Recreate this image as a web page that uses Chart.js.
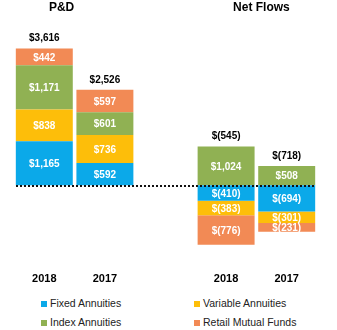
<!DOCTYPE html>
<html>
<head>
<meta charset="utf-8">
<script src="https://cdn.jsdelivr.net/npm/chart.js@4"></script>
<style>
html,body{margin:0;padding:0;background:#fff;}
#wrap{position:relative;width:337px;height:330px;font-family:"Liberation Sans",Arial,sans-serif;}
#box{position:absolute;left:0;top:0;width:337px;height:290px;}
#legend{position:absolute;left:0;top:295px;width:337px;height:35px;}
.li{position:absolute;font-size:10.5px;color:#222;line-height:12px;white-space:nowrap;}
.sw{display:inline-block;width:6px;height:6px;margin-right:3px;vertical-align:0px;}
</style>
</head>
<body>
<div id="wrap">
  <div id="box"><canvas id="c"></canvas></div>
  <div id="legend"></div>
</div>
<script>
const categories = ["2018", "2017", "", "2018", "2017"];
const groupTitles = ["P&D", "Net Flows"];
const seriesNames = ["Fixed Annuities", "Variable Annuities", "Index Annuities", "Retail Mutual Funds"];
const fixedAnnuities = [1165, 592, null, -410, -694];
const variableAnnuities = [838, 736, null, -383, -301];
const indexAnnuities = [1171, 601, null, 1024, 508];
const retailMutualFunds = [442, 597, null, -776, -231];
const seriesColors = ["#0BA9E9", "#FDBE0A", "#90B153", "#F28A55"];

const seriesValues = [fixedAnnuities, variableAnnuities, indexAnnuities, retailMutualFunds];

function fmt(v) {
  const s = Math.abs(v).toLocaleString("en-US");
  return v < 0 ? "$(" + s + ")" : "$" + s;
}

const labelPlugin = {
  id: "labels",
  afterDatasetsDraw(chart) {
    const ctx = chart.ctx;
    const y = chart.scales.y;
    const x = chart.scales.x;
    const area = chart.chartArea;
    ctx.save();
    ctx.strokeStyle = "#111";
    ctx.lineWidth = 2;
    ctx.setLineDash([2, 2]);
    const y0 = Math.round(y.getPixelForValue(0)) + 1;
    ctx.beginPath();
    ctx.moveTo(area.left + 2, y0);
    ctx.lineTo(area.right - 1, y0);
    ctx.stroke();
    ctx.setLineDash([]);
    ctx.textAlign = "center";
    ctx.textBaseline = "middle";
    ctx.font = "bold 10px 'Liberation Sans', Arial, sans-serif";
    ctx.fillStyle = "#fff";
    chart.data.datasets.forEach((ds, di) => {
      const meta = chart.getDatasetMeta(di);
      meta.data.forEach((bar, i) => {
        const v = ds.data[i];
        if (v === null || v === undefined) return;
        const p = bar.getProps(["x", "y", "base"], true);
        ctx.fillText(fmt(v), p.x, (p.y + p.base) / 2 + 1);
      });
    });
    ctx.fillStyle = "#000";
    ctx.font = "bold 10px 'Liberation Sans', Arial, sans-serif";
    categories.forEach((c, i) => {
      let total = 0, pos = 0, has = false;
      seriesValues.forEach(arr => {
        const v = arr[i];
        if (v === null) return;
        has = true;
        total += v;
        if (v > 0) pos += v;
      });
      if (!has) return;
      const px = x.getPixelForValue(i);
      const py = y.getPixelForValue(pos) - 10;
      ctx.fillText(fmt(total), px, py);
    });
    ctx.font = "bold 12px 'Liberation Sans', Arial, sans-serif";
    const g1 = (x.getPixelForValue(0) + x.getPixelForValue(1)) / 2 - 13;
    const g2 = (x.getPixelForValue(3) + x.getPixelForValue(4)) / 2 + 5;
    ctx.fillText(groupTitles[0], g1, 8);
    ctx.fillText(groupTitles[1], g2, 8);
    ctx.restore();
  }
};

const chart = new Chart(document.getElementById("c"), {
  type: "bar",
  data: {
    labels: categories,
    datasets: seriesNames.map((n, i) => ({
      label: n,
      data: seriesValues[i],
      backgroundColor: seriesColors[i],
      borderWidth: 0,
      barPercentage: 0.94,
      categoryPercentage: 1.0
    }))
  },
  options: {
    responsive: true,
    maintainAspectRatio: false,
    animation: false,
    layout: { padding: { top: 20, left: 14, right: 20, bottom: 2 } },
    plugins: { legend: { display: false }, tooltip: { enabled: false }, title: { display: false } },
    scales: {
      x: {
        stacked: true,
        grid: { display: false, drawTicks: false },
        border: { display: false },
        ticks: {
          color: "#000",
          padding: 2,
          font: { family: "'Liberation Sans', Arial, sans-serif", size: 11, weight: "bold" },
          maxRotation: 0,
          autoSkip: false
        }
      },
      y: {
        stacked: true,
        display: false,
        min: -2260,
        max: 4370
      }
    }
  },
  plugins: [labelPlugin]
});

const leg = document.getElementById("legend");
const pos = [[41, 2], [194, 2], [41, 21], [194, 21]];
chart.data.datasets.forEach((ds, i) => {
  const d = document.createElement("div");
  d.className = "li";
  d.style.left = pos[i][0] + "px";
  d.style.top = pos[i][1] + "px";
  d.innerHTML = '<span class="sw" style="background:' + ds.backgroundColor + '"></span>' + ds.label;
  leg.appendChild(d);
});
</script>
</body>
</html>
